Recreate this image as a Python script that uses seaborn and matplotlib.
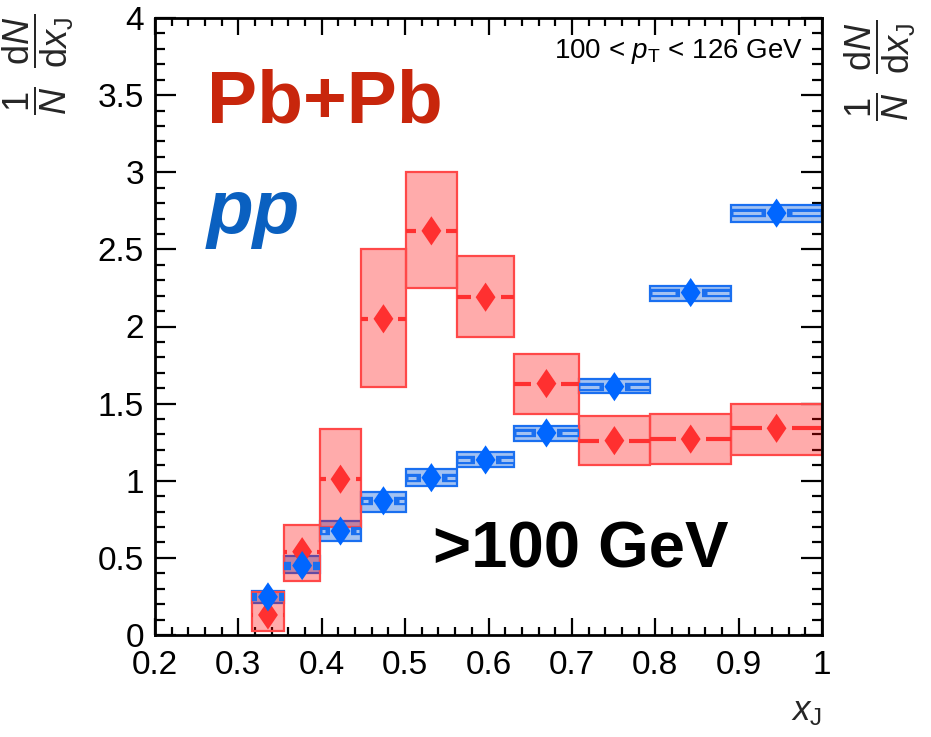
import numpy as np
import pandas as pd
import matplotlib
matplotlib.use("Agg")
import matplotlib.pyplot as plt
import seaborn as sns
from matplotlib.ticker import MultipleLocator, FuncFormatter
from matplotlib.path import Path

# ---------------- data ----------------
bin_edges = [0.316, 0.355, 0.398, 0.447, 0.501, 0.562, 0.631, 0.708, 0.794, 0.891, 1.0]
pbpb_val = [0.13, 0.54, 1.01, 2.05, 2.62, 2.19, 1.63, 1.26, 1.27, 1.34]
pbpb_sys_lo = [0.025, 0.35, 0.70, 1.61, 2.25, 1.93, 1.43, 1.10, 1.11, 1.17]
pbpb_sys_hi = [0.28, 0.71, 1.335, 2.50, 3.00, 2.46, 1.82, 1.42, 1.43, 1.50]
pp_val = [0.247, 0.45, 0.674, 0.87, 1.02, 1.135, 1.31, 1.61, 2.22, 2.735]
pp_sys_lo = [0.21, 0.40, 0.61, 0.80, 0.965, 1.09, 1.26, 1.57, 2.165, 2.68]
pp_sys_hi = [0.285, 0.51, 0.74, 0.93, 1.075, 1.185, 1.355, 1.66, 2.26, 2.79]
x_ticks_major = [0.2, 0.3, 0.4, 0.5, 0.6, 0.7, 0.8, 0.9, 1.0]
y_ticks_major = [0, 0.5, 1, 1.5, 2, 2.5, 3, 3.5, 4]

# ---------------- style ----------------
sns.set_theme(style="ticks")
plt.rcParams["font.family"] = ["Liberation Sans", "DejaVu Sans"]
plt.rcParams["mathtext.fontset"] = "custom"
plt.rcParams["mathtext.rm"] = "Liberation Sans"
plt.rcParams["mathtext.it"] = "Liberation Sans:italic"
plt.rcParams["mathtext.bf"] = "Liberation Sans:bold"

RED_MARK = "#ff3030"
RED_EDGE = "#ff4848"
RED_FILL = (1.0, 0.0, 0.0, 0.33)
BLUE_MARK = "#0066ff"
BLUE_EDGE = "#1a6ff0"
BLUE_FILL = "#a3c2f2"

edges = np.array(bin_edges)
left = edges[:-1]
right = edges[1:]
widths = np.diff(edges)
centers = 0.5 * (left + right)

fig = plt.figure(figsize=(9.31, 7.37), dpi=100)
ax = fig.add_axes([155 / 931, 1 - 635 / 737, 667 / 931, 617 / 737])

# diamond marker (height = markersize)
diamond = Path([(0, 1), (0.68, 0), (0, -1), (-0.68, 0), (0, 1)],
               [Path.MOVETO, Path.LINETO, Path.LINETO, Path.LINETO, Path.CLOSEPOLY])

# pp systematic boxes
ax.bar(left, np.array(pp_sys_hi) - np.array(pp_sys_lo), bottom=pp_sys_lo,
       width=widths, align="edge", facecolor=BLUE_FILL, edgecolor=BLUE_EDGE,
       linewidth=1.6, zorder=2)
# Pb+Pb systematic boxes
ax.bar(left, np.array(pbpb_sys_hi) - np.array(pbpb_sys_lo), bottom=pbpb_sys_lo,
       width=widths, align="edge", facecolor=RED_FILL, edgecolor=RED_EDGE,
       linewidth=1.6, zorder=3)

# Pb+Pb central horizontal bars (with gap around marker)
gap_r = 0.018
ax.hlines(pbpb_val, left, np.maximum(centers - gap_r, left), color=RED_MARK, lw=3, zorder=4)
ax.hlines(pbpb_val, np.minimum(centers + gap_r, right), right, color=RED_MARK, lw=3, zorder=4)

# pp central horizontal bars (dark with light stripe)
gap_b = 0.013
gap_b2 = 0.019
ax.hlines(pp_val, left, np.maximum(centers - gap_b, left), color=BLUE_EDGE, lw=6, zorder=5)
ax.hlines(pp_val, np.minimum(centers + gap_b, right), right, color=BLUE_EDGE, lw=6, zorder=5)
ax.hlines(pp_val, left + 0.002, np.maximum(centers - gap_b2, left + 0.002), color=BLUE_FILL, lw=2.2, zorder=5.5)
ax.hlines(pp_val, np.minimum(centers + gap_b2, right - 0.002), right - 0.002, color=BLUE_FILL, lw=2.2, zorder=5.5)

# markers via seaborn
df_pb = pd.DataFrame({"xJ": centers, "val": pbpb_val})
df_pp = pd.DataFrame({"xJ": centers, "val": pp_val})
sns.scatterplot(data=df_pb, x="xJ", y="val", marker=diamond, s=21 ** 2,
                color=RED_MARK, edgecolor="none", linewidth=0, ax=ax, zorder=6)
sns.scatterplot(data=df_pp, x="xJ", y="val", marker=diamond, s=21 ** 2,
                color=BLUE_MARK, edgecolor="none", linewidth=0, ax=ax, zorder=7)

# axes
ax.set_xlim(0.2, 1.0)
ax.set_ylim(0, 4)
ax.set_xlabel("")
ax.set_ylabel("")
ax.set_xticks(x_ticks_major)
ax.set_yticks(y_ticks_major)
ax.xaxis.set_minor_locator(MultipleLocator(0.02))
ax.yaxis.set_minor_locator(MultipleLocator(0.1))
fmt = FuncFormatter(lambda v, p: "%g" % round(v, 3))
ax.xaxis.set_major_formatter(fmt)
ax.yaxis.set_major_formatter(fmt)
ax.tick_params(which="both", direction="in", top=True, right=True,
               width=1.6, color="black", labelsize=24, labelcolor="black")
ax.tick_params(axis="x", which="major", length=12, pad=11)
ax.tick_params(axis="x", which="minor", length=6)
ax.tick_params(axis="y", which="major", length=15, pad=8)
ax.tick_params(axis="y", which="minor", length=7.5)
for sp in ax.spines.values():
    sp.set_linewidth(2)
    sp.set_color("black")
    sp.set_zorder(10)
ax.set_facecolor("white")
fig.patch.set_facecolor("white")

# texts
ax.text(0.078, 0.83, "Pb+Pb", transform=ax.transAxes, fontsize=54,
        fontweight="bold", color="#c8260c", ha="left", va="baseline")
ax.text(0.078, 0.652, "pp", transform=ax.transAxes, fontsize=55,
        fontweight="bold", fontstyle="italic", color="#0a60c0", ha="left", va="baseline")
ax.text(0.417, 0.110, ">100 GeV", transform=ax.transAxes, fontsize=47,
        fontweight="bold", color="black", ha="left", va="baseline")
ax.text((803 - 155) / 667, (635 - 58) / 617, r"100 < $p_{\mathrm{T}}$ < 126 GeV",
        transform=ax.transAxes, fontsize=20, color="black", ha="right", va="baseline")

ylab = r"$\dfrac{1}{N}\;\;\dfrac{\mathrm{d}N}{\mathrm{d}x_{\mathrm{J}}}$"
fig.text(38 / 931, 1 - 14 / 737, ylab, rotation=90, fontsize=26,
         ha="center", va="top")
fig.text(880 / 931, 1 - 20 / 737, ylab, rotation=90, fontsize=26,
         ha="center", va="top")
fig.text(822 / 931, 1 - 720 / 737, r"$x_{\mathrm{J}}$", fontsize=25,
         ha="right", va="baseline")

fig.savefig("out.png", dpi=100, facecolor="white")
